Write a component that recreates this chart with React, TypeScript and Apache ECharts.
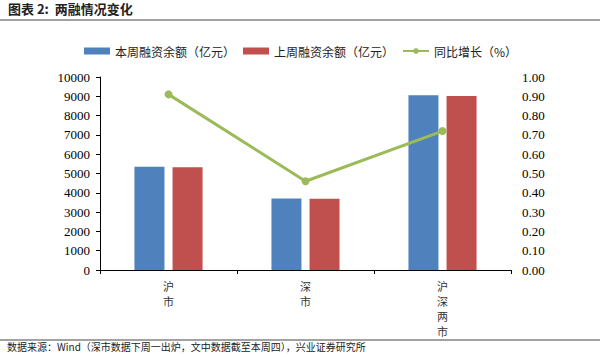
import React, { useEffect, useRef } from "react";
import * as echarts from "echarts";

const categories = ["沪市", "深市", "沪深两市"];
const thisWeek = [5350, 3700, 9050];
const lastWeek = [5320, 3690, 9010];
const growth = [0.91, 0.46, 0.72];
const seriesNames = ["本周融资余额（亿元）", "上周融资余额（亿元）", "同比增长（%）"];
const titleText = "图表 2:  两融情况变化";
const sourceText = "数据来源：Wind（深市数据下周一出炉，文中数据截至本周四），兴业证券研究所";

const CJK = "Noto Sans CJK SC";
const SERIF = "serif";

export default function App() {
  const ref = useRef<HTMLDivElement>(null);
  useEffect(() => {
    const chart = echarts.init(ref.current!, null, { renderer: "svg" });
    chart.setOption({
      animation: false,
      backgroundColor: "#ffffff",
      textStyle: { fontFamily: SERIF },
      grid: { left: 100, right: 89, top: 77, bottom: 87 },
      legend: {
        top: 40,
        left: 79,
        itemWidth: 26,
        itemHeight: 7,
        itemGap: 8,
        textStyle: { fontFamily: CJK, fontSize: 12, color: "#222" },
        data: [
          { name: seriesNames[0], icon: "rect" },
          { name: seriesNames[1], icon: "rect" },
          { name: seriesNames[2] },
        ],
      },
      xAxis: {
        type: "category",
        data: categories,
        axisLine: { lineStyle: { color: "#000", width: 1 } },
        axisTick: { show: true, length: 4, inside: false, lineStyle: { color: "#000" } },
        axisLabel: {
          interval: 0,
          margin: 8,
          fontFamily: CJK,
          fontSize: 11,
          lineHeight: 15,
          color: "#333",
          formatter: (v: string) => v.split("").join("\n"),
        },
      },
      yAxis: [
        {
          type: "value",
          min: 0,
          max: 10000,
          interval: 1000,
          splitLine: { show: false },
          axisLine: { show: true, lineStyle: { color: "#000" } },
          axisTick: { show: true, length: 4, lineStyle: { color: "#000" } },
          axisLabel: {
            fontFamily: SERIF,
            fontSize: 13,
            color: "#000",
            margin: 10,
            formatter: (v: number) => String(v),
          },
        },
        {
          type: "value",
          min: 0,
          max: 1,
          interval: 0.1,
          splitLine: { show: false },
          axisLine: { show: false },
          axisTick: { show: false },
          axisLabel: {
            fontFamily: SERIF,
            fontSize: 13,
            color: "#000",
            margin: 11,
            formatter: (v: number) => v.toFixed(2),
          },
        },
      ],
      series: [
        {
          name: seriesNames[0],
          type: "bar",
          data: thisWeek,
          barWidth: 30,
          barGap: "27%",
          itemStyle: { color: "#4F81BD" },
        },
        {
          name: seriesNames[1],
          type: "bar",
          data: lastWeek,
          barWidth: 30,
          itemStyle: { color: "#C0504D" },
        },
        {
          name: seriesNames[2],
          type: "line",
          yAxisIndex: 1,
          data: growth,
          symbol: "circle",
          symbolSize: 8,
          lineStyle: { color: "#9BBB59", width: 3 },
          itemStyle: { color: "#9BBB59" },
        },
      ],
      graphic: [
        {
          type: "text",
          left: 8,
          top: 2,
          style: {
            text: titleText,
            fontFamily: CJK,
            fontSize: 13,
            fontWeight: "bold",
            fill: "#222",
          },
        },
        {
          type: "line",
          shape: { x1: 0, y1: 20, x2: 600, y2: 20 },
          style: { stroke: "#444", lineWidth: 1 },
        },
        {
          type: "line",
          shape: { x1: 0, y1: 340, x2: 600, y2: 340 },
          style: { stroke: "#444", lineWidth: 1 },
        },
        {
          type: "text",
          left: 7,
          top: 341,
          style: {
            text: sourceText,
            fontFamily: CJK,
            fontSize: 10,
            fill: "#222",
          },
        },
      ],
    });
    return () => chart.dispose();
  }, []);
  return <div ref={ref} style={{ width: 600, height: 357, position: "absolute", left: 0, top: 0 }} />;
}
